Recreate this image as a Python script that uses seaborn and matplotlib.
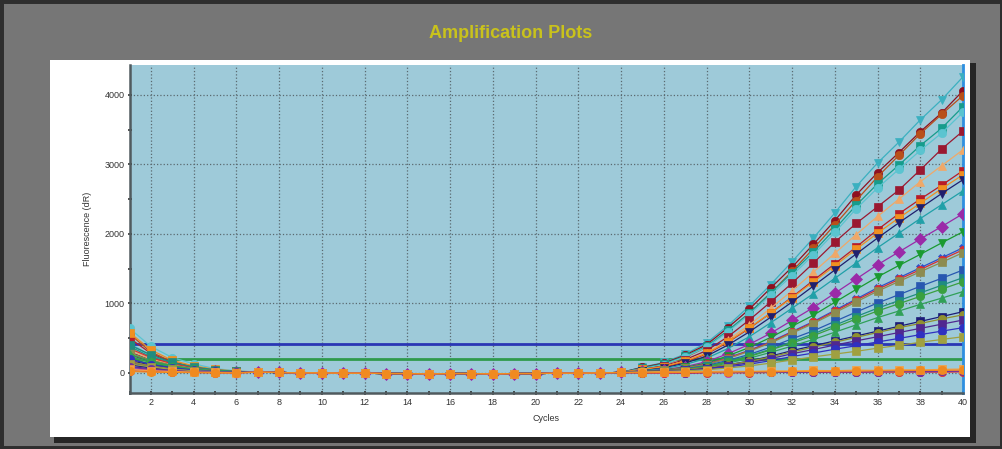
import numpy as np
import pandas as pd
import matplotlib
matplotlib.use('Agg')
import matplotlib.pyplot as plt
from matplotlib.patches import Rectangle
from matplotlib.ticker import MultipleLocator
import seaborn as sns

# ── DATA ────────────────────────────────────────────────────────
cycles = list(range(1, 41))

# cycles 1-6 (early decay of the raw signal)
early = [
    [420, 250, 140, 80, 40, 20], [300, 180, 110, 60, 30, 15], [560, 300, 160, 90, 45, 20],
    [380, 230, 140, 80, 40, 20], [640, 380, 220, 130, 60, 30], [260, 160, 100, 55, 30, 15],
    [330, 200, 120, 70, 35, 15], [500, 280, 150, 80, 40, 20], [580, 330, 180, 100, 50, 25],
    [180, 110, 70, 40, 20, 10], [240, 150, 90, 50, 25, 10], [150, 100, 60, 35, 20, 10],
    [200, 130, 80, 45, 20, 10], [110, 80, 50, 30, 15, 5], [350, 220, 130, 75, 40, 20],
    [290, 180, 110, 60, 30, 15], [140, 90, 55, 30, 15, 5], [400, 260, 150, 85, 45, 20],
    [230, 150, 90, 50, 25, 10], [270, 170, 100, 55, 30, 15], [120, 70, 45, 25, 15, 5],
    [160, 100, 60, 35, 20, 10], [90, 60, 40, 25, 10, 5], [200, 120, 75, 40, 20, 10],
    [130, 85, 50, 30, 15, 5], [60, 40, 25, 15, 5, 0], [30, 20, 10, 5, 0, 0],
    [80, 50, 30, 15, 10, 5], [50, 30, 20, 10, 5, 0], [20, 10, 5, 5, 0, 0],
]

# cycles 7-24: all wells sit on the same flat baseline
baseline_mid = [10, 5, 0, 0, -5, -5, -10, -10, -15, -10, -10, -15, -10, -10, -5, -5, 0, 5]

# cycles 25-40 (amplification phase)
late = [
    [80, 150, 270, 430, 680, 960, 1270, 1600, 1940, 2300, 2680, 3020, 3320, 3640, 3930, 4260],
    [80, 140, 255, 405, 650, 915, 1220, 1520, 1850, 2190, 2560, 2880, 3170, 3470, 3740, 4060],
    [60, 120, 220, 370, 600, 860, 1150, 1460, 1790, 2130, 2480, 2820, 3130, 3440, 3720, 3990],
    [70, 130, 240, 380, 610, 860, 1150, 1440, 1740, 2070, 2410, 2720, 2990, 3270, 3520, 3830],
    [60, 120, 230, 370, 590, 840, 1120, 1400, 1700, 2020, 2360, 2660, 2930, 3200, 3450, 3750],
    [50, 100, 190, 320, 520, 760, 1020, 1290, 1580, 1880, 2150, 2390, 2630, 2920, 3220, 3480],
    [40, 90, 170, 290, 470, 690, 930, 1180, 1450, 1720, 1990, 2250, 2500, 2750, 2980, 3210],
    [40, 80, 160, 270, 440, 640, 860, 1090, 1330, 1570, 1810, 2060, 2290, 2500, 2700, 2910],
    [50, 90, 170, 280, 450, 650, 860, 1080, 1310, 1540, 1780, 2010, 2230, 2440, 2650, 2850],
    [30, 70, 140, 240, 400, 590, 800, 1020, 1250, 1480, 1710, 1940, 2160, 2370, 2580, 2780],
    [30, 60, 120, 210, 350, 520, 720, 930, 1140, 1360, 1580, 1800, 2010, 2220, 2420, 2620],
    [20, 45, 90, 160, 275, 410, 570, 755, 940, 1145, 1350, 1555, 1740, 1925, 2105, 2290],
    [20, 40, 80, 140, 245, 365, 510, 670, 830, 1015, 1200, 1380, 1545, 1705, 1870, 2030],
    [18, 36, 72, 126, 216, 324, 450, 594, 738, 900, 1062, 1224, 1368, 1512, 1656, 1800],
    [15, 35, 70, 125, 210, 320, 440, 585, 725, 885, 1045, 1200, 1345, 1485, 1630, 1770],
    [15, 35, 70, 120, 205, 310, 430, 570, 710, 865, 1020, 1175, 1315, 1455, 1590, 1730],
    [15, 30, 60, 105, 180, 265, 370, 490, 605, 740, 875, 1005, 1125, 1245, 1360, 1480],
    [15, 25, 55, 95, 165, 245, 340, 450, 560, 685, 810, 930, 1040, 1150, 1260, 1370],
    [10, 25, 50, 90, 155, 235, 330, 430, 535, 655, 775, 890, 995, 1100, 1205, 1310],
    [10, 25, 45, 80, 140, 210, 295, 385, 480, 585, 690, 795, 890, 985, 1075, 1170],
    [20, 30, 45, 70, 115, 170, 240, 320, 390, 460, 530, 600, 670, 740, 810, 880],
    [20, 30, 50, 75, 115, 165, 230, 300, 370, 440, 510, 580, 650, 710, 775, 835],
    [15, 25, 40, 60, 100, 145, 205, 275, 335, 400, 460, 520, 580, 640, 700, 760],
    [15, 20, 35, 55, 85, 125, 175, 235, 285, 340, 390, 445, 495, 550, 600, 650],
    [10, 20, 30, 45, 70, 100, 140, 185, 230, 270, 310, 355, 395, 440, 480, 520],
    [0, -5, 0, 5, 0, 5, 10, 5, 10, 15, 10, 15, 20, 15, 20, 20],
    [-5, 0, -5, 0, 5, 0, 5, 10, 5, 10, 10, 15, 10, 15, 10, 15],
    [0, 5, 0, 5, 10, 5, 10, 5, 10, 15, 10, 15, 20, 15, 20, 25],
    [10, 15, 10, 20, 25, 20, 30, 25, 35, 30, 40, 35, 45, 40, 50, 55],
    [0, 5, 5, 10, 10, 15, 15, 20, 20, 25, 25, 30, 30, 35, 35, 40],
]

well_colors = ['#3bb0c0', '#8e1020', '#b8501a', '#169c8c', '#5ac4d0', '#9a1830',
               '#f0a868', '#b81c28', '#f09020', '#20206e', '#20a0a8', '#9a2aa8',
               '#1a9a30', '#3050c8', '#d83030', '#8c8c50', '#2858b0', '#208c80',
               '#3aa040', '#30a058', '#1c1c78', '#909030', '#502890', '#3030c0',
               '#a0a040', '#d040a0', '#e03030', '#7030a0', '#f5a040', '#f08a20']
well_markers = ['v', 'o', 'o', 's', 'o', 's', '^', 's', 's', 'v', '^', 'D',
                'v', 'X', 'o', 's', 's', 's', 'o', '^', 's', 'o', 's', 'o',
                's', 'o', 'o', 'o', 's', 'o']

threshold_hi = 420
threshold_lo = 200

# ── LONG-FORM TABLE ────────────────────────────────────────────
rows = []
for i, (e, l) in enumerate(zip(early, late)):
    vals = e + baseline_mid + l
    for c, v in zip(cycles, vals):
        rows.append((f'W{i+1:02d}', c, v))
df = pd.DataFrame(rows, columns=['well', 'cycle', 'dR'])
wells = [f'W{i+1:02d}' for i in range(len(early))]

# ── PLOT ──────────────────────────────────────────────────────
sns.set_theme(style='ticks')
plt.rcParams['font.family'] = ['Liberation Sans', 'DejaVu Sans']

W, H = 1003, 449
fig = plt.figure(figsize=(W/100, H/100), dpi=100)
fig.patch.set_facecolor('#767676')

# panel shadow + white panel (behind the axes)
fig.patches.append(Rectangle((54/W, 1-443/H), 922/W, 380/H, transform=fig.transFigure,
                             facecolor='#262626', edgecolor='none', zorder=-2))
fig.patches.append(Rectangle((50/W, 1-437/H), 920/W, 377/H, transform=fig.transFigure,
                             facecolor='white', edgecolor='none', zorder=-1))
# outer dark frame
fig.patches.append(Rectangle((0, 0), 1, 1, transform=fig.transFigure, fill=False,
                             edgecolor='#2e2e2e', lw=5, zorder=5))

fig.text(511/W, 1-33/H, 'Amplification Plots', color='#c9c21c', fontsize=13,
         fontweight='bold', ha='center', va='center')

ax = fig.add_axes([129.5/W, 1-393/H, 833.5/W, 328/H])
ax.set_facecolor('#9ecad9')

ax.axhline(threshold_hi, color='#2a36b4', lw=2, zorder=1)
ax.axhline(threshold_lo, color='#2f9a4c', lw=2, zorder=1)

sns.lineplot(data=df, x='cycle', y='dR', hue='well', style='well',
             hue_order=wells, style_order=wells, palette=well_colors,
             markers=well_markers, dashes=False, lw=0.9, markersize=6,
             legend=False, ax=ax, zorder=3)
# markers filled and edged in their own colour, as in the instrument export
for ln in ax.lines[2:]:
    ln.set_markeredgecolor(ln.get_color())
    ln.set_markeredgewidth(0.5)

ax.set_xlim(1, 40)
ax.set_ylim(-290, 4430)
ax.xaxis.set_major_locator(MultipleLocator(2))
ax.xaxis.set_minor_locator(MultipleLocator(1))
ax.yaxis.set_major_locator(MultipleLocator(1000))
ax.yaxis.set_minor_locator(MultipleLocator(500))
ax.grid(True, which='major', linestyle=':', color='#5a6a70', lw=0.9)
ax.tick_params(which='both', direction='inout', length=3, width=1.2, color='#333333',
               labelsize=6.5, labelcolor='#333333', pad=2)

for s in ['left', 'bottom']:
    ax.spines[s].set_color('#505a5e')
    ax.spines[s].set_linewidth(1.8)
ax.spines['top'].set_visible(False)
ax.spines['right'].set_color('#2e8fe0')
ax.spines['right'].set_linewidth(2)

ax.set_xlabel('Cycles', fontsize=6.5, color='#333333', labelpad=5)
ax.set_ylabel('Fluorescence (dR)', fontsize=6.5, color='#333333', labelpad=9)

plt.savefig('out.png', dpi=100, facecolor=fig.get_facecolor())
